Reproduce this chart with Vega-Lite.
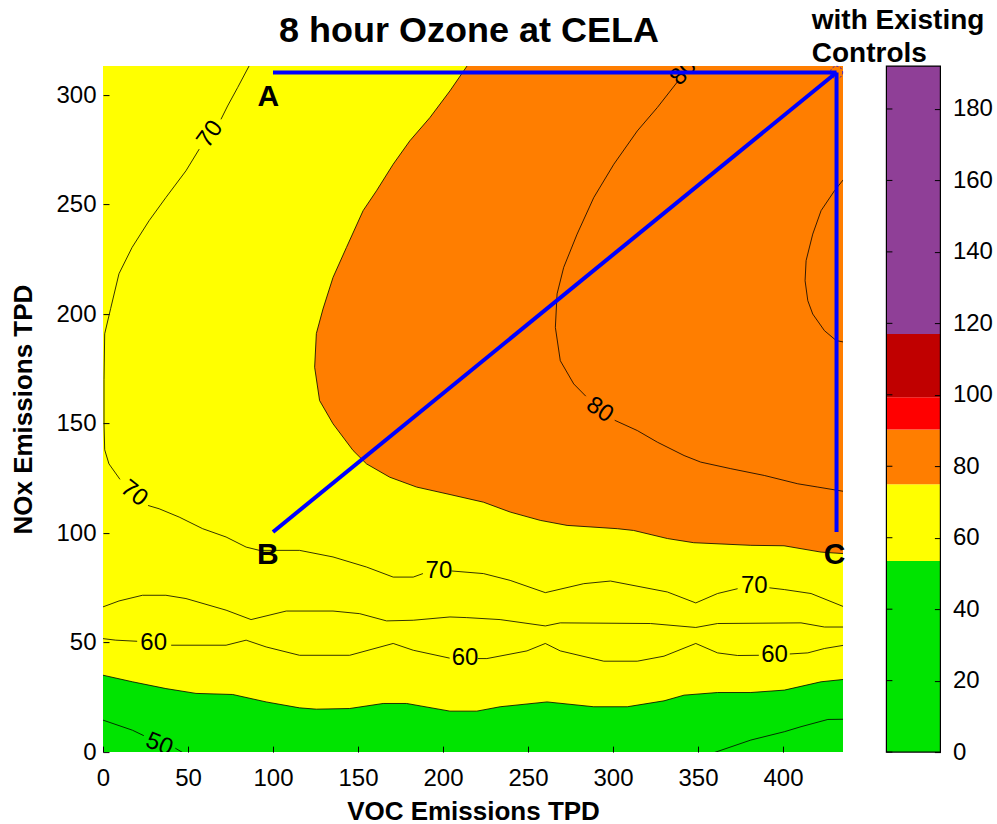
{
  "$schema": "https://vega.github.io/schema/vega-lite/v6.json",
  "background": "white",
  "padding": {"left": 10, "top": 7.1, "right": 2, "bottom": 2},
  "config": {
    "font": "Liberation Sans",
    "view": {"stroke": null},
    "axis": {"labelColor": "black", "tickColor": "black", "titleColor": "black", "grid": false, "domain": false, "labelFont": "Liberation Sans", "titleFont": "Liberation Sans"},
    "title": {"color": "black", "font": "Liberation Sans"},
    "text": {"font": "Liberation Sans"}
  },
  "datasets": {
    "green": [
      {"x": 0, "y": 35.1}, {"x": 17.3, "y": 32.1}, {"x": 37.0, "y": 29.0}, {"x": 54.7, "y": 26.8}, {"x": 76.3, "y": 26.3},
      {"x": 96.0, "y": 22.9}, {"x": 115.6, "y": 20.2}, {"x": 125.5, "y": 19.6}, {"x": 145.1, "y": 19.9}, {"x": 164.8, "y": 22.2},
      {"x": 178.6, "y": 22.2}, {"x": 204.1, "y": 18.7}, {"x": 219.9, "y": 18.7}, {"x": 233.6, "y": 20.7}, {"x": 261.2, "y": 22.9},
      {"x": 288.7, "y": 20.7}, {"x": 308.4, "y": 20.7}, {"x": 330.0, "y": 23.4}, {"x": 341.8, "y": 26.0}, {"x": 361.5, "y": 27.2},
      {"x": 381.1, "y": 27.2}, {"x": 400.8, "y": 28.3}, {"x": 422.4, "y": 32.1}, {"x": 436, "y": 33.2}
    ],
    "orange": [
      {"x": 214.8, "y": 314}, {"x": 204.1, "y": 301.9}, {"x": 192.3, "y": 289.7}, {"x": 180.5, "y": 279.1}, {"x": 170.7, "y": 268.4},
      {"x": 160.9, "y": 256.3}, {"x": 153.0, "y": 247.2}, {"x": 143.2, "y": 230.4}, {"x": 135.3, "y": 216.7}, {"x": 129.4, "y": 202.3},
      {"x": 125.5, "y": 191.1}, {"x": 124.5, "y": 175.7}, {"x": 127.4, "y": 160.5}, {"x": 135.3, "y": 149.9}, {"x": 147.1, "y": 137.7},
      {"x": 155.0, "y": 131.6}, {"x": 168.7, "y": 125.5}, {"x": 184.5, "y": 121.0}, {"x": 204.1, "y": 117.6}, {"x": 223.8, "y": 114.1},
      {"x": 239.5, "y": 109.6}, {"x": 257.2, "y": 105.8}, {"x": 273.0, "y": 103.5}, {"x": 302.5, "y": 102.0}, {"x": 312.1, "y": 101.2},
      {"x": 332.0, "y": 97.5}, {"x": 347.5, "y": 95.6}, {"x": 381.1, "y": 94.4}, {"x": 400.6, "y": 94.2}, {"x": 422.4, "y": 91.3},
      {"x": 436, "y": 90.6}
    ],
    "contours": [
      {"seg": "c70a", "x": 86.1, "y": 313.5}, {"seg": "c70a", "x": 79.2, "y": 303.4}, {"seg": "c70a", "x": 73.3, "y": 295.0}, {"seg": "c70a", "x": 69.4, "y": 288.9},
      {"seg": "c70b", "x": 56.6, "y": 275.3}, {"seg": "c70b", "x": 48.8, "y": 265.4}, {"seg": "c70b", "x": 37.0, "y": 253.2}, {"seg": "c70b", "x": 27.1, "y": 242.6},
      {"seg": "c70b", "x": 17.1, "y": 230.4}, {"seg": "c70b", "x": 9.4, "y": 218.4}, {"seg": "c70b", "x": 4.5, "y": 202.5}, {"seg": "c70b", "x": 1.0, "y": 191},
      {"seg": "c70b", "x": 0.6, "y": 170}, {"seg": "c70b", "x": 0.6, "y": 150}, {"seg": "c70b", "x": 1.0, "y": 138}, {"seg": "c70b", "x": 3.5, "y": 131.6},
      {"seg": "c70b", "x": 10.0, "y": 124.5},
      {"seg": "c70c", "x": 26.5, "y": 112.6}, {"seg": "c70c", "x": 33.0, "y": 111.1}, {"seg": "c70c", "x": 44.8, "y": 107.3}, {"seg": "c70c", "x": 58.6, "y": 102.0},
      {"seg": "c70c", "x": 72.4, "y": 98.2}, {"seg": "c70c", "x": 84.2, "y": 93.6}, {"seg": "c70c", "x": 92.0, "y": 92.1}, {"seg": "c70c", "x": 115.6, "y": 92.1},
      {"seg": "c70c", "x": 135.3, "y": 89.1}, {"seg": "c70c", "x": 155.0, "y": 84.5}, {"seg": "c70c", "x": 170.7, "y": 79.9}, {"seg": "c70c", "x": 182.5, "y": 79.9},
      {"seg": "c70c", "x": 188.2, "y": 81.5},
      {"seg": "c70d", "x": 205.0, "y": 82.7}, {"seg": "c70d", "x": 223.8, "y": 81.5}, {"seg": "c70d", "x": 239.5, "y": 78.4}, {"seg": "c70d", "x": 260.2, "y": 72.8},
      {"seg": "c70d", "x": 282.8, "y": 76.9}, {"seg": "c70d", "x": 298.5, "y": 78.1}, {"seg": "c70d", "x": 332.0, "y": 73.1}, {"seg": "c70d", "x": 348.7, "y": 68.1},
      {"seg": "c70d", "x": 361.5, "y": 72.4}, {"seg": "c70d", "x": 373.3, "y": 74.6},
      {"seg": "c70e", "x": 392.0, "y": 75.0}, {"seg": "c70e", "x": 400.8, "y": 74.2}, {"seg": "c70e", "x": 416.5, "y": 72.4}, {"seg": "c70e", "x": 436, "y": 66.3},
      {"seg": "c65", "x": 0, "y": 66.3}, {"seg": "c65", "x": 9.4, "y": 69.0}, {"seg": "c65", "x": 23.2, "y": 71.6}, {"seg": "c65", "x": 37.0, "y": 71.6},
      {"seg": "c65", "x": 48.8, "y": 70.1}, {"seg": "c65", "x": 72.4, "y": 64.8}, {"seg": "c65", "x": 87.1, "y": 60.5}, {"seg": "c65", "x": 107.8, "y": 64.4},
      {"seg": "c65", "x": 135.3, "y": 64.4}, {"seg": "c65", "x": 151.0, "y": 63.2}, {"seg": "c65", "x": 166.8, "y": 59.9}, {"seg": "c65", "x": 182.5, "y": 60.2},
      {"seg": "c65", "x": 204.1, "y": 61.7}, {"seg": "c65", "x": 214.0, "y": 61.4}, {"seg": "c65", "x": 233.6, "y": 60.5}, {"seg": "c65", "x": 260.2, "y": 57.6},
      {"seg": "c65", "x": 269.0, "y": 59.0}, {"seg": "c65", "x": 322.1, "y": 58.7}, {"seg": "c65", "x": 348.7, "y": 56.9}, {"seg": "c65", "x": 361.5, "y": 58.7},
      {"seg": "c65", "x": 410.6, "y": 59.0}, {"seg": "c65", "x": 424.4, "y": 57.1}, {"seg": "c65", "x": 436, "y": 57.1},
      {"seg": "c60a", "x": 0, "y": 51.8}, {"seg": "c60a", "x": 7.5, "y": 51.1}, {"seg": "c60a", "x": 20.1, "y": 50.6},
      {"seg": "c60b", "x": 40.1, "y": 48.8}, {"seg": "c60b", "x": 72.4, "y": 48.8}, {"seg": "c60b", "x": 84.2, "y": 51.1}, {"seg": "c60b", "x": 96.0, "y": 48.0},
      {"seg": "c60b", "x": 115.6, "y": 44.2}, {"seg": "c60b", "x": 145.1, "y": 44.2}, {"seg": "c60b", "x": 170.7, "y": 49.6}, {"seg": "c60b", "x": 182.5, "y": 46.5},
      {"seg": "c60b", "x": 203.9, "y": 42.9},
      {"seg": "c60c", "x": 220.5, "y": 42.7}, {"seg": "c60c", "x": 225.8, "y": 42.7}, {"seg": "c60c", "x": 249.4, "y": 46.2}, {"seg": "c60c", "x": 260.2, "y": 49.6},
      {"seg": "c60c", "x": 269.0, "y": 46.2}, {"seg": "c60c", "x": 294.6, "y": 41.5}, {"seg": "c60c", "x": 314.3, "y": 41.5}, {"seg": "c60c", "x": 330.0, "y": 43.8},
      {"seg": "c60c", "x": 348.7, "y": 49.6}, {"seg": "c60c", "x": 361.5, "y": 45.3}, {"seg": "c60c", "x": 373.3, "y": 44.1}, {"seg": "c60c", "x": 385.8, "y": 44.2},
      {"seg": "c60d", "x": 404.0, "y": 44.8}, {"seg": "c60d", "x": 414.6, "y": 45.3}, {"seg": "c60d", "x": 424.4, "y": 47.3}, {"seg": "c60d", "x": 436, "y": 48.8},
      {"seg": "c50a", "x": 0, "y": 14.6}, {"seg": "c50a", "x": 17.3, "y": 10.0}, {"seg": "c50a", "x": 24.0, "y": 7.5},
      {"seg": "c50b", "x": 42.5, "y": 1.8}, {"seg": "c50b", "x": 47.5, "y": -0.5},
      {"seg": "c50r", "x": 358.5, "y": -0.5}, {"seg": "c50r", "x": 381.1, "y": 5.5}, {"seg": "c50r", "x": 400.8, "y": 9.3}, {"seg": "c50r", "x": 410.6, "y": 11.6},
      {"seg": "c50r", "x": 426.4, "y": 14.9}, {"seg": "c50r", "x": 436, "y": 15.0},
      {"seg": "c80b", "x": 338.3, "y": 306.4}, {"seg": "c80b", "x": 326.1, "y": 294.3}, {"seg": "c80b", "x": 314.3, "y": 283.6}, {"seg": "c80b", "x": 300.5, "y": 268.4},
      {"seg": "c80b", "x": 288.7, "y": 253.2}, {"seg": "c80b", "x": 278.9, "y": 236.5}, {"seg": "c80b", "x": 271.0, "y": 221.3}, {"seg": "c80b", "x": 267.1, "y": 209.2},
      {"seg": "c80b", "x": 266.1, "y": 193.9}, {"seg": "c80b", "x": 269.0, "y": 178.7}, {"seg": "c80b", "x": 276.9, "y": 168.1}, {"seg": "c80b", "x": 284.0, "y": 162.5},
      {"seg": "c80c", "x": 301.0, "y": 151.5}, {"seg": "c80c", "x": 314.3, "y": 146.8}, {"seg": "c80c", "x": 326.1, "y": 141.5}, {"seg": "c80c", "x": 341.8, "y": 135.4},
      {"seg": "c80c", "x": 351.6, "y": 132.4}, {"seg": "c80c", "x": 369.3, "y": 129.4}, {"seg": "c80c", "x": 389.0, "y": 126.3}, {"seg": "c80c", "x": 408.7, "y": 122.5},
      {"seg": "c80c", "x": 420.5, "y": 121.0}, {"seg": "c80c", "x": 436, "y": 119.0},
      {"seg": "c85", "x": 437, "y": 262.8}, {"seg": "c85", "x": 430.3, "y": 256.3}, {"seg": "c85", "x": 422.4, "y": 247.2}, {"seg": "c85", "x": 417.5, "y": 236.5},
      {"seg": "c85", "x": 413.6, "y": 224.4}, {"seg": "c85", "x": 413.0, "y": 215.2}, {"seg": "c85", "x": 414.6, "y": 206.1}, {"seg": "c85", "x": 417.5, "y": 200.0},
      {"seg": "c85", "x": 424.4, "y": 192.4}, {"seg": "c85", "x": 431.3, "y": 187.9}, {"seg": "c85", "x": 437, "y": 187.0}
    ],
    "path": [
      {"seg": "AT", "x": 100, "y": 310.3}, {"seg": "AT", "x": 431.5, "y": 310.3},
      {"seg": "TC", "x": 431.5, "y": 310.3}, {"seg": "TC", "x": 431.5, "y": 100.5},
      {"seg": "BT", "x": 100, "y": 100.5}, {"seg": "BT", "x": 431.5, "y": 310.3}
    ],
    "cbar": [
      {"lo": 0, "hi": 53.5, "band": "good"},
      {"lo": 53.5, "hi": 75, "band": "moderate"},
      {"lo": 75, "hi": 90.3, "band": "usg"},
      {"lo": 90.3, "hi": 99.3, "band": "unhealthy"},
      {"lo": 99.3, "hi": 117, "band": "very"},
      {"lo": 117, "hi": 192, "band": "hazardous"}
    ]
  },
  "hconcat": [
    {
      "width": 740,
      "height": 686,
      "title": {"text": "8 hour Ozone at CELA", "fontSize": 36, "fontWeight": "bold", "baseline": "alphabetic", "offset": 22, "dx": -4, "dy": 35.5},
      "encoding": {
        "x": {"field": "x", "type": "quantitative", "scale": {"domain": [0, 435.3], "nice": false, "zero": false},
          "axis": {"orient": "bottom", "values": [0, 50, 100, 150, 200, 250, 300, 350, 400], "tickSize": -6, "tickWidth": 1, "zindex": 1, "labelFontSize": 24, "labelPadding": 20, "labelFlush": false,
            "title": "VOC Emissions TPD", "titleFontSize": 26, "titleFontWeight": "bold", "titlePadding": 8}},
        "y": {"field": "y", "type": "quantitative", "scale": {"domain": [0, 313.2], "nice": false, "zero": false},
          "axis": {"orient": "left", "values": [0, 50, 100, 150, 200, 250, 300], "tickSize": -6, "tickWidth": 1, "zindex": 1, "labelFontSize": 24, "labelPadding": 13, "labelFlush": false,
            "title": "NOx Emissions TPD", "titleFontSize": 26, "titleFontWeight": "bold", "titlePadding": 19.3}}
      },
      "layer": [
        {"data": {"values": [{"x0": 0, "x1": 435.3, "y0": 0, "y1": 313.2}]}, "mark": {"type": "rect", "color": "#ffff00"},
          "encoding": {"x": {"field": "x0", "type": "quantitative"}, "x2": {"field": "x1"}, "y": {"field": "y0", "type": "quantitative"}, "y2": {"field": "y1"}}},
        {"data": {"name": "green"}, "mark": {"type": "area", "color": "#00e400", "clip": true, "opacity": 1}, "encoding": {"y2": {"datum": 0}}},
        {"data": {"name": "green"}, "mark": {"type": "line", "color": "#000000", "strokeWidth": 0.8, "clip": true}, "encoding": {"order": {"value": null}}},
        {"data": {"name": "orange"}, "mark": {"type": "area", "orient": "horizontal", "color": "#ff7e00", "clip": true, "opacity": 1}, "encoding": {"x2": {"datum": 440}}},
        {"data": {"name": "orange"}, "mark": {"type": "line", "color": "#000000", "strokeWidth": 0.8, "clip": true}, "encoding": {"order": {"value": null}}},
        {"data": {"name": "contours"}, "mark": {"type": "line", "color": "#000000", "strokeWidth": 0.8, "clip": true}, "encoding": {"detail": {"field": "seg"}, "order": {"value": null}}},
        {"data": {"values": [{"x": 197.6, "y": 82.6, "t": "70"}, {"x": 383.1, "y": 75.8, "t": "70"}, {"x": 29.8, "y": 49.7, "t": "60"}, {"x": 213.0, "y": 42.8, "t": "60"}, {"x": 395.0, "y": 44.2, "t": "60"}]},
          "mark": {"type": "text", "fontSize": 24, "color": "#000000", "baseline": "middle", "align": "center", "clip": true}, "encoding": {"text": {"field": "t"}}},
        {"data": {"values": [{"x": 18.3, "y": 118.1, "t": "70"}]},
          "mark": {"type": "text", "fontSize": 24, "angle": 38, "color": "#000000", "baseline": "middle", "align": "center", "clip": true}, "encoding": {"text": {"field": "t"}}},
        {"data": {"values": [{"x": 63.0, "y": 282.1, "t": "70"}]},
          "mark": {"type": "text", "fontSize": 24, "angle": -54, "color": "#000000", "baseline": "middle", "align": "center", "clip": true}, "encoding": {"text": {"field": "t"}}},
        {"data": {"values": [{"x": 292.2, "y": 156.2, "t": "80"}]},
          "mark": {"type": "text", "fontSize": 24, "angle": 34, "color": "#000000", "baseline": "middle", "align": "center", "clip": true}, "encoding": {"text": {"field": "t"}}},
        {"data": {"values": [{"x": 341.5, "y": 310.5, "t": "80"}]},
          "mark": {"type": "text", "fontSize": 24, "angle": -48, "color": "#000000", "baseline": "middle", "align": "center", "clip": true}, "encoding": {"text": {"field": "t"}}},
        {"data": {"values": [{"x": 33.1, "y": 3.5, "t": "50"}]},
          "mark": {"type": "text", "fontSize": 24, "angle": 22, "color": "#000000", "baseline": "middle", "align": "center", "clip": true}, "encoding": {"text": {"field": "t"}}},
        {"data": {"name": "path"}, "mark": {"type": "line", "color": "#0000ff", "strokeWidth": 4, "clip": true}, "encoding": {"detail": {"field": "seg"}, "order": {"value": null}}},
        {"data": {"values": [{"x": 431.5, "y": 310.3}]}, "mark": {"type": "point", "shape": "circle", "filled": false, "color": "#0000ff", "strokeWidth": 0.8, "strokeDash": [2, 2], "size": 150, "opacity": 1}},
        {"data": {"values": [{"x": 97.3, "y": 299.2, "t": "A"}, {"x": 96.9, "y": 90.2, "t": "B"}, {"x": 430.3, "y": 90.2, "t": "C"}]},
          "mark": {"type": "text", "fontSize": 30, "fontWeight": "bold", "color": "#000000", "baseline": "middle", "align": "center"}, "encoding": {"text": {"field": "t"}}},
        {"data": {"values": [{"t": 0}, {"t": 50}, {"t": 100}, {"t": 150}, {"t": 200}, {"t": 250}, {"t": 300}]},
          "mark": {"type": "rule", "color": "#000000", "strokeWidth": 1},
          "encoding": {"x": {"datum": 431.77}, "x2": {"datum": 435.3}, "y": {"field": "t", "type": "quantitative"}}},
        {"data": {"values": [{"t": 0}, {"t": 50}, {"t": 100}, {"t": 150}, {"t": 200}, {"t": 250}, {"t": 300}, {"t": 350}, {"t": 400}]},
          "mark": {"type": "rule", "color": "#000000", "strokeWidth": 1},
          "encoding": {"y": {"datum": 310.46}, "y2": {"datum": 313.2}, "x": {"field": "t", "type": "quantitative"}}},
        {"data": {"values": [{"f": 1}]},
          "mark": {"type": "rect", "fillOpacity": 0, "stroke": "#000000", "strokeWidth": 1.2},
          "encoding": {"x": {"datum": 0}, "x2": {"datum": 435.3}, "y": {"datum": 0}, "y2": {"datum": 313.2}}}
      ]
    },
    {
      "width": 54,
      "height": 686,
      "title": {"text": ["with Existing", "Controls"], "anchor": "start", "dx": -74, "dy": 28, "fontSize": 28, "fontWeight": "bold", "baseline": "alphabetic", "lineHeight": 33, "offset": 3},
      "encoding": {
        "x": {"datum": 0, "type": "quantitative", "scale": {"domain": [0, 1], "nice": false, "zero": false}, "axis": null},
        "y": {"field": "lo", "type": "quantitative", "scale": {"domain": [0, 192], "nice": false, "zero": false},
          "axis": {"orient": "right", "values": [0, 20, 40, 60, 80, 100, 120, 140, 160, 180], "tickSize": -6, "zindex": 1, "labelFontSize": 24, "labelPadding": 18, "labelFlush": false, "title": null}}
      },
      "layer": [
        {
          "data": {"name": "cbar"},
          "mark": {"type": "rect"},
          "encoding": {
            "x2": {"datum": 1},
            "y2": {"field": "hi"},
            "color": {"field": "band", "type": "nominal",
              "scale": {"domain": ["good", "moderate", "usg", "unhealthy", "very", "hazardous"], "range": ["#00e400", "#ffff00", "#ff7e00", "#ff0000", "#c00000", "#8f3f97"]},
              "legend": null}
          }
        },
        {
          "data": {"values": [{"lo": 0}, {"lo": 20}, {"lo": 40}, {"lo": 60}, {"lo": 80}, {"lo": 100}, {"lo": 120}, {"lo": 140}, {"lo": 160}, {"lo": 180}]},
          "mark": {"type": "rule", "color": "#000000", "strokeWidth": 1},
          "encoding": {"x2": {"datum": 0.111}}
        },
        {
          "data": {"values": [{"lo": 0, "hi": 192}]},
          "mark": {"type": "rect", "fillOpacity": 0, "stroke": "#000000", "strokeWidth": 1.2},
          "encoding": {"x2": {"datum": 1}, "y2": {"field": "hi"}}
        }
      ]
    }
  ],
  "spacing": -34.6
}
